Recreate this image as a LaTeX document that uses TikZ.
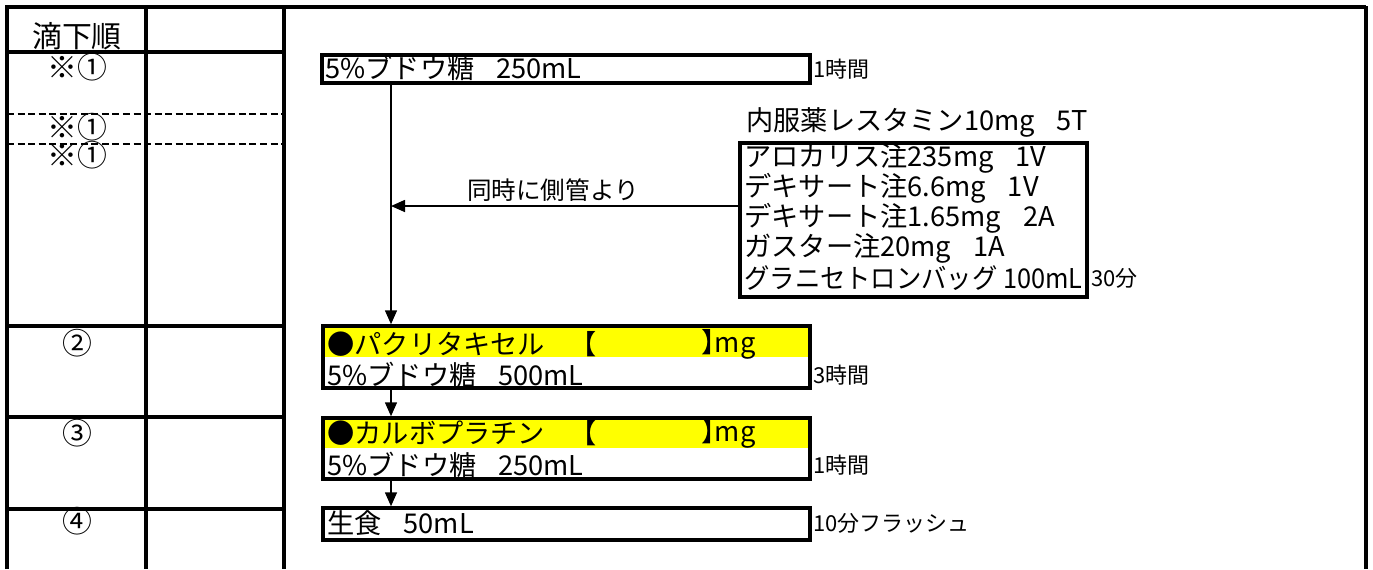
\documentclass[tikz,border=0pt]{standalone}
\usepackage{fontspec}
\setmainfont{Noto Sans CJK JP}
\usetikzlibrary{arrows.meta,fit,positioning}
\definecolor{hilite}{RGB}{255,255,0}
\newcommand{\headtxt}{\fontsize{17pt}{19pt}\selectfont}
\newcommand{\bigtxt}{\fontsize{15.5pt}{17pt}\selectfont}
\newcommand{\smalltxt}{\fontsize{12.5pt}{14pt}\selectfont}
\newcommand{\gap}{\hspace{0.8em}}

\begin{document}
\begin{tikzpicture}[x=0.02cm,y=-0.02cm,
    grid/.style={line width=2pt},
    dashgrid/.style={line width=1.4pt,dash pattern=on 4pt off 2pt},
    drugbox/.style={draw,line width=2pt,inner sep=0pt},
    txt/.style={anchor=west,inner sep=0pt,font=\bigtxt},
    note/.style={anchor=west,inner sep=0pt,font=\smalltxt},
    arr/.style={line width=0.9pt,-{Triangle[length=0.28cm,width=0.24cm]}}]
    \useasboundingbox (0,0) rectangle (1373,569);
%the table
    \draw[grid] (7,569) -- (7,7) -- (1366,7);
    \draw[line width=2.6pt] (1366,6) -- (1366,569);
    \draw[grid] (146,7) -- (146,569);
    \draw[grid] (284,7) -- (284,569);
    \draw[grid] (7,52) -- (284,52);
    \draw[dashgrid] (7,114) -- (284,114);
    \draw[dashgrid] (7,144) -- (284,144);
    \draw[grid] (7,326) -- (284,326);
    \draw[grid] (7,417) -- (284,417);
    \draw[grid] (7,509) -- (284,509);
%the order column
    \node[font=\headtxt] (hd) at (77,36) {滴下順};
    \node[font=\headtxt] (o1) at (77,67) {※①};
    \node[font=\headtxt] (o1b) at (77,127) {※①};
    \node[font=\headtxt] (o1c) at (77,155) {※①};
    \node[font=\headtxt] (o2) at (77,343) {②};
    \node[font=\headtxt] (o3) at (77,433) {③};
    \node[font=\headtxt] (o4) at (77,521) {④};
%the yellow bands
    \fill[hilite] (323,326) rectangle (810,357);
    \fill[hilite] (323,418) rectangle (810,448);
%the boxes
    \node[drugbox,fit={(322,55) (810,83)}] (glu1) {};
    \node[drugbox,fit={(740,143) (1087,297)}] (side) {};
    \node[drugbox,fit={(323,326) (810,388)}] (pac) {};
    \node[drugbox,fit={(323,418) (810,479)}] (carbo) {};
    \node[drugbox,fit={(323,508) (810,540)}] (saline) {};
%the box texts
    \node[txt] (t1) at (325,68) {5\%ブドウ糖\gap 250mL};
    \node[txt] (pre) at (746,122) {内服薬レスタミン10mg\gap 5T};
    \node[txt] (s1) at (744,158) {アロカリス注235mg\gap 1V};
    \node[txt] (s2) at (744,188) {デキサート注6.6mg\gap 1V};
    \node[txt] (s3) at (744,218) {デキサート注1.65mg\gap 2A};
    \node[txt] (s4) at (744,248) {ガスター注20mg\gap 1A};
    \node[txt] (s5) at (744,278) {\scalebox{0.93}[1]{グラニセトロンバッグ 100mL}};
    \node[txt] (p1) at (327,344) {●パクリタキセル};
    \node[txt] (p1l) at (569,344) {【};
    \node[txt] (p1r) at (701,344) {】\hspace{-0.5em}mg};
    \node[txt] (p2) at (327,375) {5\%ブドウ糖\gap 500mL};
    \node[txt] (c1) at (327,433) {●カルボプラチン};
    \node[txt] (c1l) at (569,433) {【};
    \node[txt] (c1r) at (701,433) {】\hspace{-0.5em}mg};
    \node[txt] (c2) at (327,465) {5\%ブドウ糖\gap 250mL};
    \node[txt] (n1) at (327,523) {生食\gap 50mL};
%the times
    \node[note] (h1) at (813,69) {1時間};
    \node[note] (h30) at (1091,278) {30分};
    \node[note] (h3) at (813,375) {3時間};
    \node[note] (h1b) at (813,465) {1時間};
    \node[note] (h10) at (813,523) {10分フラッシュ};
%the arrows
    \coordinate (trunk) at (391,0);
    \coordinate (join) at (0,206);
    \draw[arr] (glu1.south -| trunk) -- (pac.north -| trunk);
    \draw[arr] (side.west |- join) -- (trunk |- join);
    \draw[arr] (pac.south -| trunk) -- (carbo.north -| trunk);
    \draw[arr] (carbo.south -| trunk) -- (saline.north -| trunk);
    \node[font=\fontsize{14pt}{16pt}\selectfont] (via) at (553,190) {同時に側管より};
\end{tikzpicture}
\end{document}
